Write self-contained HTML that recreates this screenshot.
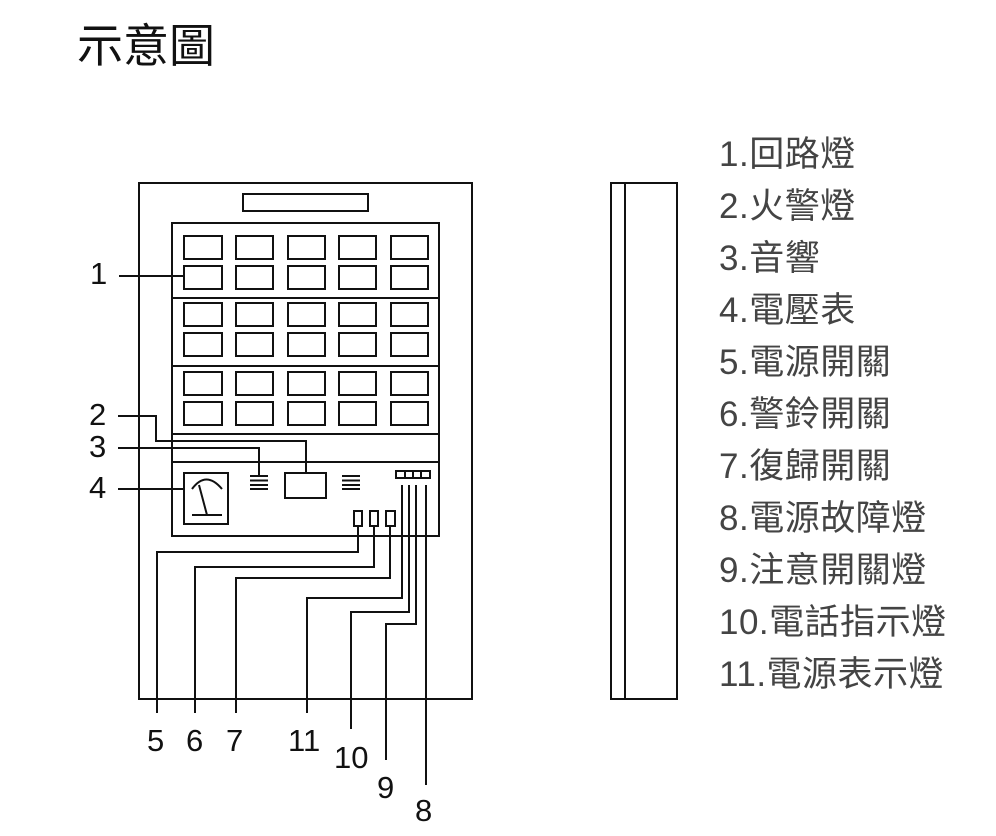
<!DOCTYPE html>
<html><head><meta charset="utf-8"><style>
html,body{margin:0;padding:0;background:#fff;}
svg{display:block;}
.n{font-family:"Liberation Sans",sans-serif;font-size:31px;fill:#111;}
.l{font-family:"Liberation Sans","Noto Sans CJK TC",sans-serif;font-size:35px;fill:#444;letter-spacing:0.5px;}
</style></head><body>
<svg width="996" height="836" viewBox="0 0 996 836" xmlns="http://www.w3.org/2000/svg">
<text x="77" y="62" style="font-family:'Liberation Sans','Noto Sans CJK TC',sans-serif;font-size:46px;fill:#111">示意圖</text>
<g fill="none" stroke="#111" stroke-width="2">
<rect x="139" y="183" width="333" height="516"/>
<rect x="243" y="194" width="125" height="17"/>
<rect x="172" y="223" width="267" height="313"/>
<line x1="172" y1="298" x2="439" y2="298"/>
<line x1="172" y1="366" x2="439" y2="366"/>
<line x1="172" y1="434" x2="439" y2="434"/>
<line x1="172" y1="462" x2="439" y2="462"/>
<g>
<rect x="184" y="236" width="38" height="23"/><rect x="236" y="236" width="37" height="23"/><rect x="288" y="236" width="37" height="23"/><rect x="339" y="236" width="37" height="23"/><rect x="391" y="236" width="37" height="23"/>
<rect x="184" y="266" width="38" height="23"/><rect x="236" y="266" width="37" height="23"/><rect x="288" y="266" width="37" height="23"/><rect x="339" y="266" width="37" height="23"/><rect x="391" y="266" width="37" height="23"/>
<rect x="184" y="303" width="38" height="23"/><rect x="236" y="303" width="37" height="23"/><rect x="288" y="303" width="37" height="23"/><rect x="339" y="303" width="37" height="23"/><rect x="391" y="303" width="37" height="23"/>
<rect x="184" y="333" width="38" height="23"/><rect x="236" y="333" width="37" height="23"/><rect x="288" y="333" width="37" height="23"/><rect x="339" y="333" width="37" height="23"/><rect x="391" y="333" width="37" height="23"/>
<rect x="184" y="372" width="38" height="23"/><rect x="236" y="372" width="37" height="23"/><rect x="288" y="372" width="37" height="23"/><rect x="339" y="372" width="37" height="23"/><rect x="391" y="372" width="37" height="23"/>
<rect x="184" y="402" width="38" height="23"/><rect x="236" y="402" width="37" height="23"/><rect x="288" y="402" width="37" height="23"/><rect x="339" y="402" width="37" height="23"/><rect x="391" y="402" width="37" height="23"/>
</g>
<rect x="184" y="473" width="44" height="51"/>
<path d="M192 489 Q206 470 222 489"/>
<line x1="199" y1="485" x2="207" y2="515"/>
<line x1="192" y1="515" x2="222" y2="515"/>
<path d="M250 476H268M250 480.5H268M250 485H268M250 489H268"/>
<path d="M342 476H360M342 480.5H360M342 485H360M342 489H360"/>
<rect x="285" y="473" width="41" height="25"/>
<rect x="396" y="471" width="34" height="7"/>
<path d="M405 471V478M413 471V478M421 471V478"/>
<rect x="354" y="511" width="8" height="15"/><rect x="370" y="511" width="8" height="15"/><rect x="386" y="511" width="9" height="15"/>
<line x1="119" y1="276" x2="184" y2="276"/>
<path d="M118 416H156V441H306V473"/>
<path d="M118 448H259V476"/>
<line x1="118" y1="489" x2="184" y2="489"/>
<path d="M358 526V552H157V713"/>
<path d="M374 526V567H195V713"/>
<path d="M390 526V578H236V713"/>
<path d="M402 485V598H307V713"/>
<path d="M409 485V612H351V729"/>
<path d="M416 485V624H386V760"/>
<path d="M426 485V785"/>
<rect x="611" y="183" width="66" height="516"/>
<line x1="625" y1="183" x2="625" y2="699"/>
</g>
<text class="n" x="90" y="284">1</text>
<text class="n" x="89" y="425">2</text>
<text class="n" x="89" y="457">3</text>
<text class="n" x="89" y="498">4</text>
<text class="n" x="147" y="751">5</text>
<text class="n" x="186" y="751">6</text>
<text class="n" x="226" y="751">7</text>
<text class="n" x="288" y="751">11</text>
<text class="n" x="334" y="768">10</text>
<text class="n" x="377" y="798">9</text>
<text class="n" x="415" y="821">8</text>
<g class="l">
<text x="719" y="166">1.回路燈</text>
<text x="719" y="218">2.火警燈</text>
<text x="719" y="270">3.音響</text>
<text x="719" y="322">4.電壓表</text>
<text x="719" y="374">5.電源開關</text>
<text x="719" y="426">6.警鈴開關</text>
<text x="719" y="478">7.復歸開關</text>
<text x="719" y="530">8.電源故障燈</text>
<text x="719" y="582">9.注意開關燈</text>
<text x="719" y="634">10.電話指示燈</text>
<text x="719" y="686">11.電源表示燈</text>
</g>
</svg>
</body></html>
